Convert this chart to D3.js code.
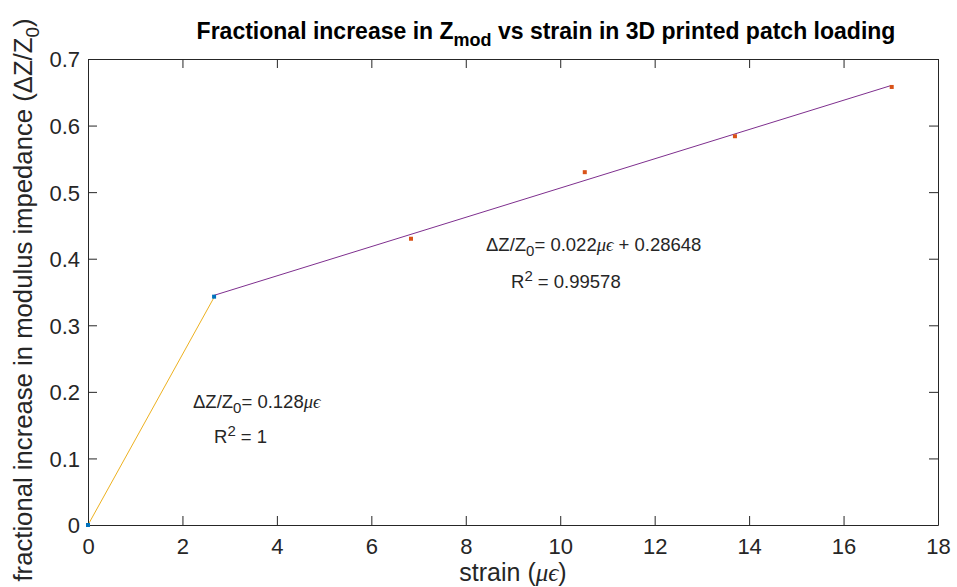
<!DOCTYPE html>
<html>
<head>
<meta charset="utf-8">
<script src="https://d3js.org/d3.v7.min.js"></script>
<style>
  body { margin: 0; background: #fff; }
  text { font-family: "Liberation Sans", Arial, sans-serif; fill: #262626; }
</style>
</head>
<body>
<div id="chart"></div>
<script>
// data
var blueX = [0, 2.67];
var blueY = [0, 0.343];
var orangeX = [6.84, 10.52, 13.7, 17.02];
var orangeY = [0.430, 0.530, 0.584, 0.658];
var fit1 = [[0, 0], [2.67, 0.342]];
var fit2 = [[2.67, 0.345], [17.0, 0.660]];
var xTicks = [0, 2, 4, 6, 8, 10, 12, 14, 16, 18];
var yTicks = [0, 0.1, 0.2, 0.3, 0.4, 0.5, 0.6, 0.7];

var w = 957, h = 587;
var m = {left: 88, right: 19, top: 59, bottom: 62};

var svg = d3.select("#chart").append("svg")
    .attr("width", w)
    .attr("height", h);

var x = d3.scaleLinear().domain([0, 18]).range([m.left, w - m.right]);
var y = d3.scaleLinear().domain([0, 0.7]).range([h - m.bottom, m.top]);

var axisColor = "#262626";
var mathFont = "'Liberation Serif', 'DejaVu Serif', serif";

// box + ticks
var xAx = svg.append("g")
    .attr("transform", "translate(0," + (h - m.bottom) + ")")
    .call(d3.axisBottom(x).tickValues(xTicks).tickSizeInner(-9).tickSizeOuter(0).tickPadding(13).tickFormat(d3.format("d")));
var xTop = svg.append("g")
    .attr("transform", "translate(0," + m.top + ")")
    .call(d3.axisTop(x).tickValues(xTicks).tickSizeInner(-9).tickSizeOuter(0).tickFormat(""));
var yAx = svg.append("g")
    .attr("transform", "translate(" + m.left + ",0)")
    .call(d3.axisLeft(y).tickValues(yTicks).tickSizeInner(-9).tickSizeOuter(0).tickPadding(8).tickFormat(function (d) { return d === 0 ? "0" : d3.format(".1f")(d); }));
var yRight = svg.append("g")
    .attr("transform", "translate(" + (w - m.right) + ",0)")
    .call(d3.axisRight(y).tickValues(yTicks).tickSizeInner(-9).tickSizeOuter(0).tickFormat(""));

[xAx, xTop, yAx, yRight].forEach(function (g) {
    g.select(".domain").attr("stroke", axisColor).attr("stroke-width", 1);
    g.selectAll(".tick line").attr("stroke", axisColor);
    g.selectAll(".tick text").style("font-size", "22px").attr("fill", axisColor);
});
yAx.selectAll(".tick text").attr("dy", "0.36em");

// fit lines
var line = d3.line().x(function (d) { return x(d[0]); }).y(function (d) { return y(d[1]); });
svg.append("path").datum(fit1).attr("d", line)
    .attr("fill", "none").attr("stroke", "#EDB120").attr("stroke-width", 1);
svg.append("path").datum(fit2).attr("d", line)
    .attr("fill", "none").attr("stroke", "#7E2F8E").attr("stroke-width", 1);

// points
svg.selectAll(".pb").data(blueX).enter().append("rect")
    .attr("x", function (d) { return x(d) - 2; })
    .attr("y", function (d, i) { return y(blueY[i]) - 2; })
    .attr("width", 4).attr("height", 4)
    .attr("fill", "#0072BD");
svg.selectAll(".po").data(orangeX).enter().append("rect")
    .attr("x", function (d) { return x(d) - 2; })
    .attr("y", function (d, i) { return y(orangeY[i]) - 2; })
    .attr("width", 4).attr("height", 4)
    .attr("fill", "#D95319");

// title
var title = svg.append("text")
    .attr("x", 546).attr("y", 39)
    .attr("text-anchor", "middle")
    .style("font-size", "23px").style("font-weight", "bold")
    .style("fill", "#000");
title.append("tspan").text("Fractional increase in Z");
title.append("tspan").attr("dy", 7).style("font-size", "18px").text("mod");
title.append("tspan").attr("dy", -7).text(" vs strain in 3D printed patch loading");

// axis labels
var xl = svg.append("text")
    .attr("x", x(9)).attr("y", 581)
    .attr("text-anchor", "middle")
    .style("font-size", "25px");
xl.append("tspan").text("strain (");
xl.append("tspan").style("font-family", mathFont).style("font-style", "italic").text("μϵ");
xl.append("tspan").text(")");

var yl = svg.append("text")
    .attr("transform", "translate(32,300) rotate(-90)")
    .attr("text-anchor", "middle")
    .style("font-size", "25.7px");
yl.append("tspan").text("fractional increase in modulus impedance (ΔZ/Z");
yl.append("tspan").attr("dy", 7).style("font-size", "19px").text("0");
yl.append("tspan").attr("dy", -7).text(")");

// annotations
function eqn(x0, y0, parts) {
    var t = svg.append("text").attr("x", x0).attr("y", y0).style("font-size", "18.5px");
    parts.forEach(function (p) {
        var s = t.append("tspan").text(p.t);
        if (p.dy) s.attr("dy", p.dy);
        if (p.fs) s.style("font-size", p.fs);
        if (p.it) s.style("font-family", mathFont).style("font-style", "italic");
    });
}
eqn(193, 408, [{t: "ΔZ/Z"}, {t: "0", dy: 5, fs: "15px"}, {t: "= 0.128", dy: -5}, {t: "μϵ", it: true}]);
eqn(214, 443, [{t: "R"}, {t: "2", dy: -7, fs: "15px"}, {t: " = 1", dy: 7}]);
eqn(486, 251, [{t: "ΔZ/Z"}, {t: "0", dy: 5, fs: "15px"}, {t: "= 0.022", dy: -5}, {t: "μϵ", it: true}, {t: " + 0.28648"}]);
eqn(511, 288, [{t: "R"}, {t: "2", dy: -7, fs: "15px"}, {t: " = 0.99578", dy: 7}]);
</script>
</body>
</html>
